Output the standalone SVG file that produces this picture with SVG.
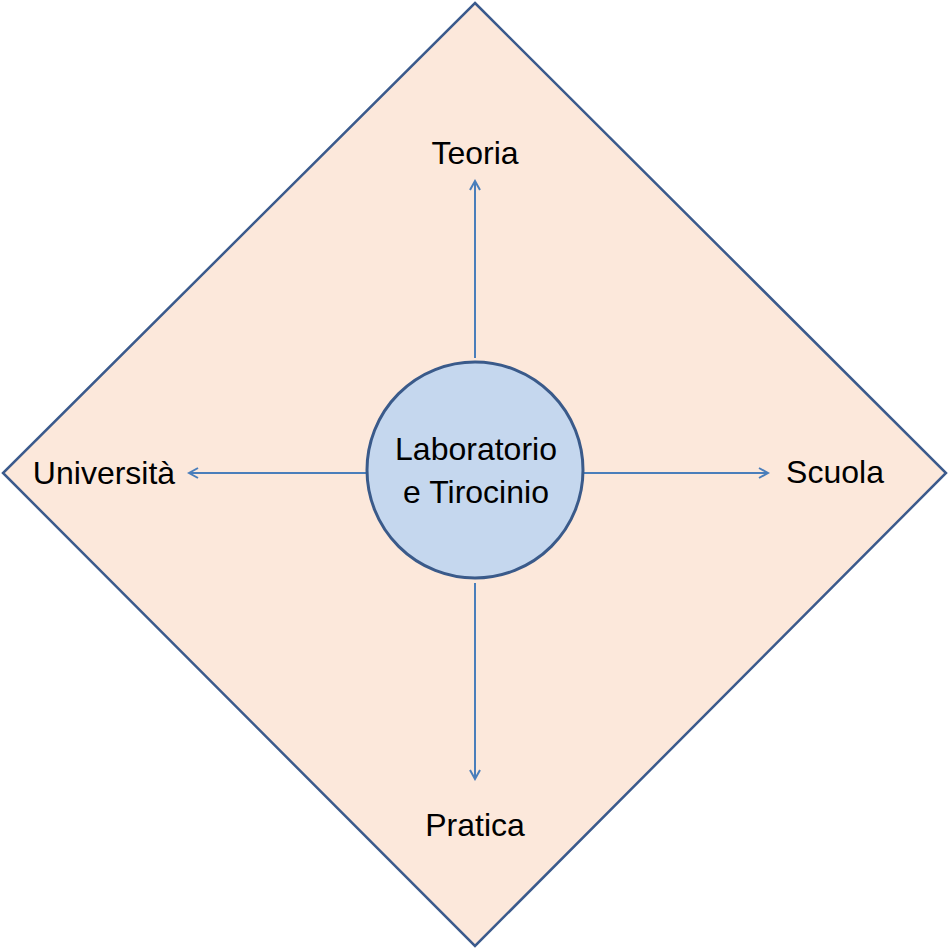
<svg xmlns="http://www.w3.org/2000/svg" width="949" height="949" viewBox="0 0 949 949">
<style>
text{font-family:"Liberation Sans","DejaVu Sans",sans-serif;font-size:32px;fill:#000;text-anchor:middle}
.c{stroke:#4A7EBB;stroke-width:2;fill:none;marker-end:url(#a)}
</style>
<defs><marker id="a" markerWidth="12" markerHeight="12" refX="10" refY="6" orient="auto" markerUnits="userSpaceOnUse"><path d="M1,1 L10,6 L1,11" fill="none" stroke="#4A7EBB" stroke-width="2"/></marker></defs>
<g id="bg"><polygon points="475,3 946,473 475,946 3,473" fill="#FCE8DB" stroke="#3B5A8C" stroke-width="2.5"/></g>
<g id="connectors">
<line class="c" x1="475" y1="358" x2="475" y2="181"/>
<line class="c" x1="366" y1="473" x2="189" y2="473"/>
<line class="c" x1="583" y1="473" x2="768" y2="473"/>
<line class="c" x1="475" y1="583" x2="475" y2="779"/>
</g>
<g id="center"><circle cx="475" cy="470" r="108" fill="#C5D7EE" stroke="#3A5A8A" stroke-width="3"/>
<text x="476" y="460">Laboratorio</text><text x="476" y="503">e Tirocinio</text></g>
<g id="teoria"><text x="475" y="164">Teoria</text></g>
<g id="universita"><text x="104" y="484">Università</text></g>
<g id="scuola"><text x="835" y="483">Scuola</text></g>
<g id="pratica"><text x="475" y="836">Pratica</text></g>
</svg>
